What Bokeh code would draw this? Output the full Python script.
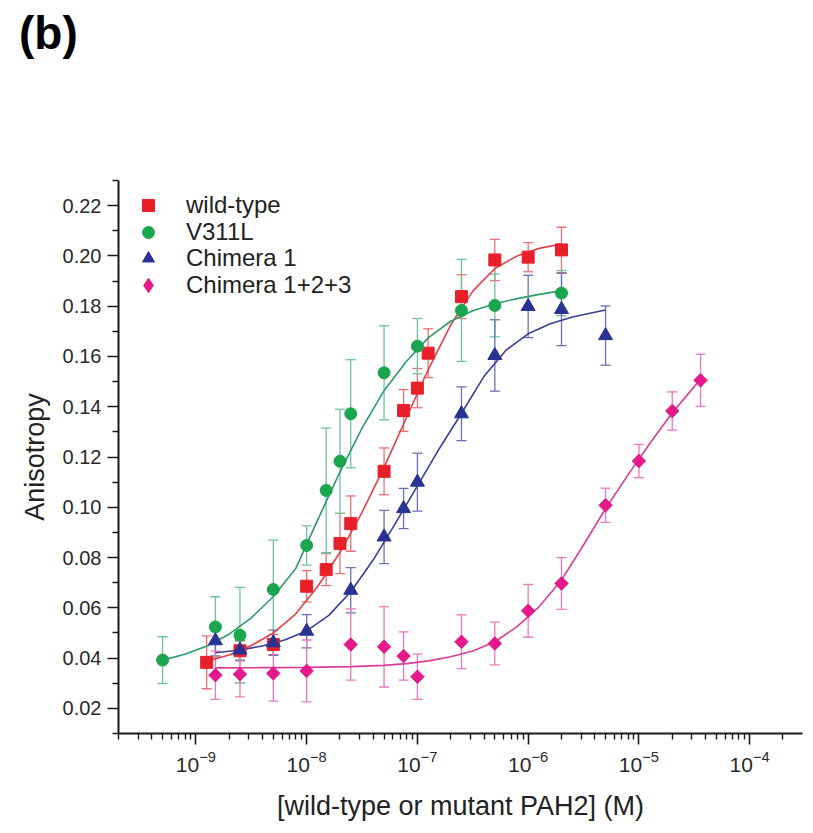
import numpy as np
from bokeh.plotting import figure
from bokeh.layouts import column
from bokeh.models import (ColumnDataSource, Whisker, TeeHead, FixedTicker, PrintfTickFormatter,
                          Legend, LegendItem, Range1d, Div)
from bokeh.embed import file_html
from bokeh.resources import INLINE

# ---------------- data ----------------
wt_x = [1.25e-9, 2.5e-9, 5e-9, 1e-8, 1.5e-8, 2e-8, 2.5e-8, 5e-8, 7.5e-8, 1e-7, 1.25e-7, 2.5e-7, 5e-7, 1e-6, 2e-6]
wt_y = [0.0383, 0.0429, 0.0454, 0.0686, 0.0752, 0.0856, 0.0935, 0.1143, 0.1385, 0.1474, 0.1613, 0.1838, 0.1984, 0.1995, 0.2024]
wt_err = [0.0105, 0.004, 0.004, 0.0062, 0.0064, 0.012, 0.011, 0.0093, 0.0083, 0.0078, 0.0097, 0.0087, 0.0082, 0.0058, 0.009]

v3_x = [5e-10, 1.5e-9, 2.5e-9, 5e-9, 1e-8, 1.5e-8, 2e-8, 2.5e-8, 5e-8, 1e-7, 2.5e-7, 5e-7, 2e-6]
v3_y = [0.0392, 0.0524, 0.0491, 0.0673, 0.0848, 0.1067, 0.1183, 0.1372, 0.1535, 0.1641, 0.1783, 0.1803, 0.1852]
v3_err = [0.0093, 0.012, 0.019, 0.0196, 0.0078, 0.0248, 0.0207, 0.0215, 0.0187, 0.011, 0.0203, 0.0125, 0.009]

c1_x = [1.5e-9, 2.5e-9, 5e-9, 1e-8, 2.5e-8, 5e-8, 7.5e-8, 1e-7, 2.5e-7, 5e-7, 1e-6, 2e-6, 5e-6]
c1_y = [0.0469, 0.0432, 0.0461, 0.0507, 0.0670, 0.0882, 0.0995, 0.1100, 0.1372, 0.1604, 0.1799, 0.1787, 0.1683]
c1_err = [0.006, 0.004, 0.005, 0.0066, 0.009, 0.0106, 0.008, 0.0115, 0.0107, 0.0142, 0.0124, 0.0144, 0.0118]

c123_x = [1.5e-9, 2.5e-9, 5e-9, 1e-8, 2.5e-8, 5e-8, 7.5e-8, 1e-7, 2.5e-7, 5e-7, 1e-6, 2e-6, 5e-6, 1e-5, 2e-5, 3.6e-5]
c123_y = [0.0332, 0.0336, 0.0339, 0.0349, 0.0454, 0.0445, 0.0408, 0.0326, 0.0465, 0.0458, 0.0588, 0.0697, 0.1008, 0.1184, 0.1383, 0.1505]
c123_err = [0.0096, 0.009, 0.011, 0.0123, 0.0142, 0.016, 0.0096, 0.009, 0.0107, 0.0085, 0.0105, 0.0103, 0.0068, 0.0066, 0.0076, 0.0104]

# fitted curves (x given as log10 of the concentration)
wt_fit_logx = [-8.903, -8.7, -8.5, -8.3, -8.1, -7.9, -7.7, -7.5, -7.3, -7.1, -6.9, -6.7, -6.5, -6.3, -6.1, -5.9, -5.699]
wt_fit_y = [0.0388, 0.0412, 0.0450, 0.0500, 0.0575, 0.0685, 0.0820, 0.0980, 0.1160, 0.1355, 0.1550, 0.1725, 0.1860, 0.1950, 0.2000, 0.2030, 0.2048]

v3_fit_logx = [-9.301, -9.1, -8.9, -8.7, -8.5, -8.3, -8.1, -7.9, -7.7, -7.5, -7.3, -7.1, -6.9, -6.7, -6.5, -6.3, -6.1, -5.9, -5.699]
v3_fit_y = [0.0392, 0.0415, 0.0448, 0.0495, 0.0560, 0.0645, 0.0755, 0.0950, 0.1140, 0.1315, 0.1465, 0.1580, 0.1675, 0.1740, 0.1782, 0.1810, 0.1830, 0.1847, 0.1862]

c1_fit_logx = [-8.824, -8.6, -8.4, -8.2, -8.0, -7.8, -7.6, -7.4, -7.2, -7.0, -6.8, -6.6, -6.4, -6.2, -6.0, -5.8, -5.6, -5.4, -5.301]
c1_fit_y = [0.0421, 0.0432, 0.0448, 0.0472, 0.0508, 0.0570, 0.0665, 0.0790, 0.0935, 0.1085, 0.1235, 0.1375, 0.1520, 0.1625, 0.1690, 0.1730, 0.1757, 0.1776, 0.1785]

c123_fit_logx = [-8.824, -8.4, -8.0, -7.6, -7.3, -7.1, -6.9, -6.7, -6.5, -6.3, -6.1, -5.9, -5.7, -5.5, -5.3, -5.1, -4.9, -4.7, -4.5, -4.444]
c123_fit_y = [0.0361, 0.0362, 0.0363, 0.0366, 0.0371, 0.0378, 0.0389, 0.0405, 0.0428, 0.0465, 0.0525, 0.0605, 0.0710, 0.0850, 0.0995, 0.1128, 0.1255, 0.1375, 0.1480, 0.1508]

series_names = ["wild-type", "V311L", "Chimera 1", "Chimera 1+2+3"]
x_major = [1e-9, 1e-8, 1e-7, 1e-6, 1e-5, 1e-4]
y_major = [0.02, 0.04, 0.06, 0.08, 0.10, 0.12, 0.14, 0.16, 0.18, 0.20, 0.22]
y_minor = [0.01, 0.03, 0.05, 0.07, 0.09, 0.11, 0.13, 0.15, 0.17, 0.19, 0.21, 0.23]
panel_label = "(b)"

FONT = "Liberation Sans"
HEADER_H = 60

header = Div(text=panel_label, width=811, height=HEADER_H, margin=(0, 0, 0, 0),
             styles={"font-family": FONT, "font-size": "46px", "font-weight": "bold",
                     "line-height": "46px", "padding-left": "19px", "padding-top": "10px",
                     "color": "#000000"})

p = figure(frame_width=684, frame_height=553, x_axis_type="log",
           x_range=Range1d(2e-10, 3e-4), y_range=Range1d(0.01, 0.23),
           output_backend="svg", toolbar_location=None,
           min_border_left=118, min_border_right=9, min_border_top=180 - HEADER_H, min_border_bottom=98)
p.outline_line_color = None
p.xgrid.visible = False
p.ygrid.visible = False
p.background_fill_color = "white"
p.border_fill_color = "white"

x_minor = [m * 10.0 ** e for e in range(-10, -3) for m in range(2, 10)]
x_minor = [v for v in x_minor if 1.999e-10 <= v <= 3.001e-4]
p.xaxis.ticker = FixedTicker(ticks=x_major, minor_ticks=x_minor)
p.yaxis.ticker = FixedTicker(ticks=y_major, minor_ticks=y_minor)
p.yaxis.formatter = PrintfTickFormatter(format="%.2f")

for ax in (p.xaxis[0], p.yaxis[0]):
    ax.axis_line_width = 2
    ax.axis_line_color = "#1a1a1a"
    ax.major_tick_line_color = "#1a1a1a"
    ax.minor_tick_line_color = "#1a1a1a"
    ax.major_tick_line_width = 1.6
    ax.minor_tick_line_width = 1.4
    ax.major_tick_out = 11
    ax.major_tick_in = 0
    ax.minor_tick_out = 6
    ax.minor_tick_in = 0
    ax.major_label_text_font = FONT
    ax.major_label_text_color = "#2a2a2a"
    ax.axis_label_text_font = FONT
    ax.axis_label_text_font_size = "27px"
    ax.axis_label_text_font_style = "normal"
    ax.axis_label_text_color = "#222222"

p.xaxis.major_label_text_font_size = "21px"
p.yaxis.major_label_text_font_size = "20px"
p.xaxis.axis_label = "[wild-type or mutant PAH2] (M)"
p.yaxis.axis_label = "Anisotropy"
p.xaxis.major_label_standoff = 6
p.yaxis.major_label_standoff = 6
p.xaxis.axis_label_standoff = 16
p.yaxis.axis_label_standoff = 10

marker_colors = ["#e8202a", "#19a64f", "#2a3393", "#e6198c"]
line_colors = ["#e4404a", "#2a9d6b", "#3a3f98", "#dc3c98"]
bar_colors = ["#ec6f76", "#6fc39b", "#6b71b5", "#ea78bb"]
markers = ["square", "circle", "triangle", "square"]
legend_markers = ["square", "circle", "triangle", "diamond"]
sizes = [12, 12, 14, 9.5]
angles = [0, 0, 0, np.pi / 4]

datasets = [(wt_x, wt_y, wt_err, wt_fit_logx, wt_fit_y),
            (v3_x, v3_y, v3_err, v3_fit_logx, v3_fit_y),
            (c1_x, c1_y, c1_err, c1_fit_logx, c1_fit_y),
            (c123_x, c123_y, c123_err, c123_fit_logx, c123_fit_y)]

# error bars
for (xs, ys, es, flx, fy), bc in zip(datasets, bar_colors):
    src = ColumnDataSource(dict(x=xs, lo=[y - e for y, e in zip(ys, es)], hi=[y + e for y, e in zip(ys, es)]))
    w = Whisker(source=src, base="x", lower="lo", upper="hi", dimension="height",
                line_color=bc, line_width=1.3,
                upper_head=TeeHead(size=10, line_color=bc, line_width=1.3),
                lower_head=TeeHead(size=10, line_color=bc, line_width=1.3))
    p.add_layout(w)

# fitted curves
for (xs, ys, es, flx, fy), lc in zip(datasets, line_colors):
    p.line([10.0 ** v for v in flx], fy, line_color=lc, line_width=1.6)

# markers
legend_renderers = []
for (xs, ys, es, flx, fy), mc, mk, lmk, sz, ang in zip(datasets, marker_colors, markers, legend_markers,
                                                     sizes, angles):
    proxy = None
    if lmk != mk:
        # diamond drawn underneath the rotated squares; used only as the legend symbol
        proxy = p.scatter(xs, ys, marker=lmk, size=sz * 1.35, fill_color=mc, line_color=mc)
    r = p.scatter(xs, ys, marker=mk, size=sz, angle=ang, fill_color=mc, line_color=mc)
    legend_renderers.append(proxy if proxy is not None else r)

# one legend per row so the row pitch matches the original
row_bottoms = [513, 486, 460, 430]
glyph_boxes = [30, 30, 30, 36]
row_x = [15, 15, 15, 12]
standoffs = [23, 23, 23, 20]
for name, r, yb, gb, rx, so in zip(series_names, legend_renderers, row_bottoms, glyph_boxes, row_x, standoffs):
    lg = Legend(items=[LegendItem(label=name, renderers=[r])], location=(rx, yb),
                glyph_width=gb, glyph_height=gb, label_height=gb, spacing=0, padding=0, margin=0,
                label_standoff=so, border_line_color=None, background_fill_alpha=0,
                label_text_font=FONT, label_text_font_size="24px", label_text_color="#222222")
    p.add_layout(lg)

layout = column(header, p, spacing=0)
open("out.html", "w").write(file_html(layout, INLINE))
